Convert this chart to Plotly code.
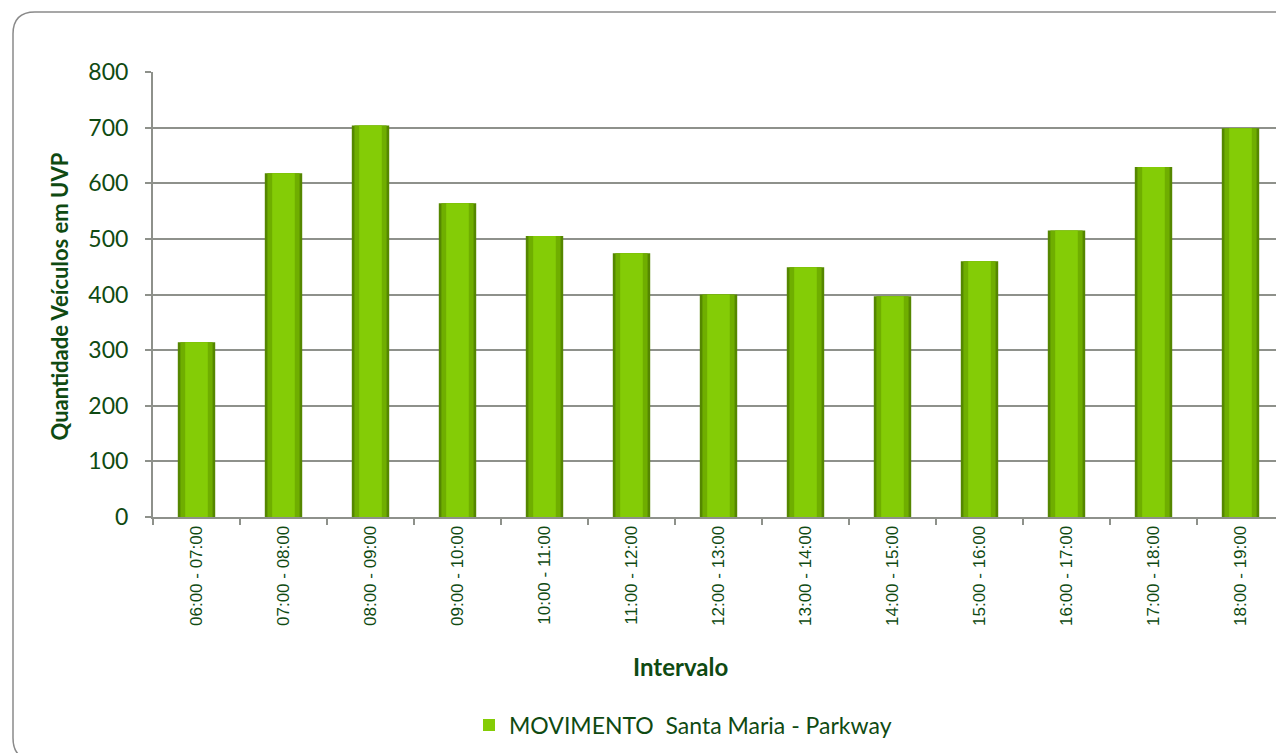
import plotly.graph_objects as go

# Dados
intervalos = ["06:00 - 07:00", "07:00 - 08:00", "08:00 - 09:00", "09:00 - 10:00",
              "10:00 - 11:00", "11:00 - 12:00", "12:00 - 13:00", "13:00 - 14:00",
              "14:00 - 15:00", "15:00 - 16:00", "16:00 - 17:00", "17:00 - 18:00",
              "18:00 - 19:00"]
uvp = [314, 618, 704, 564, 505, 474, 400, 449, 397, 460, 515, 629, 699]
serie_nome = "MOVIMENTO  Santa Maria - Parkway"
y_ticks = [0, 100, 200, 300, 400, 500, 600, 700, 800]

verde_texto = "#0f4a12"
cinza = "#8e918b"

# page has an 8px body margin, so work in page pixels and convert
OFF = 8
W, H = 1276, 745
L, R, T, B = 145, 0, 64, 236
pw, ph = W - L - R, H - T - B


def px_x(x):
    return (x - OFF - L) / pw


def px_y(y):
    return (H - B - (y - OFF)) / ph


fig = go.Figure()

# bar drawn in three layers to fake the shaded cylinder look
fig.add_trace(go.Bar(x=intervalos, y=uvp, width=0.43, showlegend=False, hoverinfo="skip",
                     marker=dict(color="#558700", line=dict(width=0))))
fig.add_trace(go.Bar(x=intervalos, y=uvp, width=0.37, showlegend=False, hoverinfo="skip",
                     marker=dict(color="#6fae00", line=dict(width=0))))
fig.add_trace(go.Bar(x=intervalos, y=uvp, width=0.26, name=serie_nome,
                     marker=dict(color="#84cc06", line=dict(color="#6fae00", width=0))))

# rounded chart frame
x0, x1 = px_x(13), px_x(1300)
y0, y1 = px_y(760), px_y(12)
rx, ry = 22 / pw, 22 / ph
frame = (f"M {x0 + rx},{y1} L {x1},{y1} "
         f"M {x0},{y1 - ry} Q {x0},{y1} {x0 + rx},{y1} "
         f"M {x0},{y1 - ry} L {x0},{y0 + ry} Q {x0},{y0} {x0 + rx},{y0} L {x1},{y0}")
fig.add_shape(type="path", path=frame, xref="paper", yref="paper",
              line=dict(color="#8a8a8a", width=1.5), layer="below")

fig.update_layout(
    width=W, height=H,
    margin=dict(l=L, r=R, t=T, b=B),
    paper_bgcolor="white", plot_bgcolor="white",
    barmode="overlay",
    font=dict(family="Lato, Open Sans, sans-serif", color=verde_texto),
    showlegend=True,
    legend=dict(orientation="h", x=px_x(683), y=px_y(725), xanchor="center", yanchor="middle",
                font=dict(size=23, family="Lato, sans-serif", color=verde_texto)),
    xaxis=dict(
        tickangle=-90, tickfont=dict(size=17, family="Liberation Sans, Arial", color=verde_texto),
        showline=True, linecolor=cinza, linewidth=2,
        ticks="outside", tickson="boundaries", ticklen=6, tickcolor=cinza, tickwidth=1.5,
        showgrid=False,
    ),
    yaxis=dict(
        range=[0, 800], tickvals=y_ticks, tickfont=dict(size=23, color=verde_texto),
        showline=True, linecolor=cinza, linewidth=2,
        ticks="outside", ticklen=6, tickcolor=cinza, tickwidth=1.5, ticklabelstandoff=12,
        showgrid=True, gridcolor=cinza, gridwidth=1.5, zeroline=False,
    ),
    annotations=[
        dict(text="<b>Quantidade Veículos em UVP</b>", textangle=-90,
             x=px_x(43), y=px_y(297), xref="paper", yref="paper", showarrow=False,
             font=dict(size=22, color=verde_texto)),
        dict(text="<b>Intervalo</b>", x=px_x(680), y=px_y(683), xref="paper", yref="paper",
             showarrow=False, font=dict(size=24, color=verde_texto)),
    ],
)

fig.write_html("out.html")
